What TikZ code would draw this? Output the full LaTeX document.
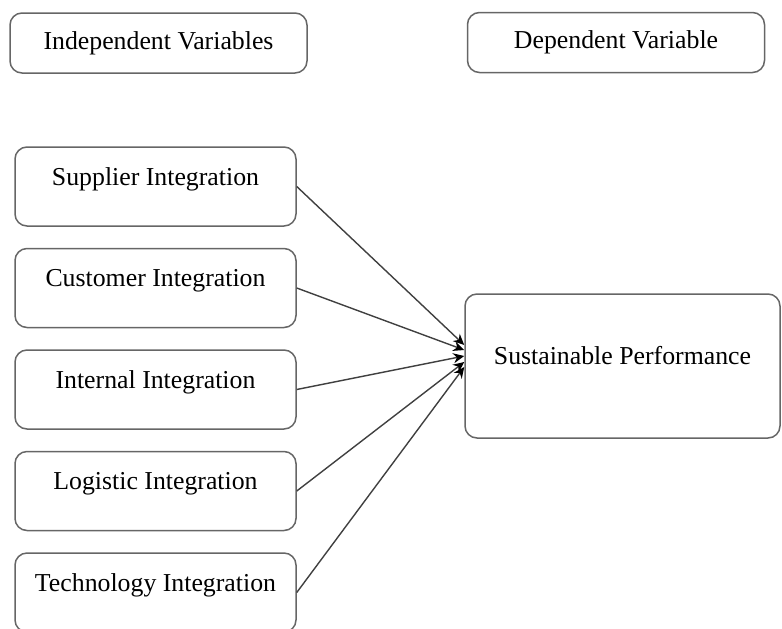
\documentclass[tikz,border=0pt]{standalone}
\usepackage{fontspec}
\setmainfont{Liberation Serif}
\usetikzlibrary{positioning,arrows.meta}
\begin{document}
\begin{tikzpicture}[x=0.5pt, y=-0.5pt,
    font=\fontsize{12.9}{15.5}\selectfont,
    box/.style={draw=black!60, line width=0.75pt, rounded corners=6pt},
    head/.style={box, minimum width=148.5pt, minimum height=30pt},
    var/.style={box, minimum width=140.5pt, minimum height=39.5pt, text height=8pt, text depth=9.5pt},
    link/.style={draw=black!75, line width=0.7pt, -{Stealth[length=5.5pt,width=5pt,black]}}]
    \useasboundingbox (0,0) rectangle (782,628);
    \node [head] (indep) at (158.5,43) {Independent Variables};
    \node [head] (dep) at (616,42.5) {Dependent Variable};
    \node [var] (supplier) at (155.5,186.5) {Supplier Integration};
    \node [var, below=10.5pt of supplier] (customer) {Customer Integration};
    \node [var, below=10.5pt of customer] (internal) {Internal Integration};
    \node [var, below=10.5pt of internal] (logistic) {Logistic Integration};
    \node [var, below=10.5pt of logistic] (technology) {Technology Integration};
    \node [box, minimum width=157.5pt, minimum height=72pt, text height=8pt, text depth=9.5pt] (perf) at (622.5,366) {Sustainable Performance};
    \draw [link] (supplier.east) -- ([yshift=10.5pt]perf.west);
    \draw [link] (customer.east) -- ([yshift=8pt]perf.west);
    \draw [link] (internal.east) -- ([yshift=5pt]perf.west);
    \draw [link] (logistic.east) -- ([yshift=2pt]perf.west);
    \draw [link] (technology.east) -- ([yshift=-0.5pt]perf.west);
\end{tikzpicture}
\end{document}
